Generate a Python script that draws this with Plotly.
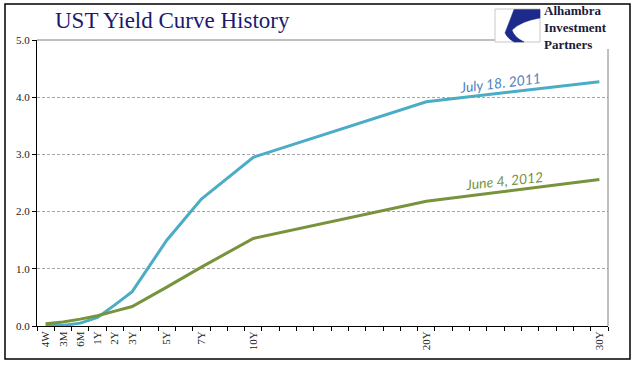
import plotly.graph_objects as go

# ---- data ----
tenors = ["4W", "3M", "6M", "1Y", "2Y", "3Y", "5Y", "7Y", "10Y", "20Y", "30Y"]
july_2011 = [0.02, 0.01, 0.05, 0.15, 0.37, 0.60, 1.50, 2.22, 2.95, 3.92, 4.27]
june_2012 = [0.04, 0.07, 0.12, 0.18, 0.26, 0.34, 0.68, 1.03, 1.53, 2.18, 2.56]
slots = ["4W", "3M", "6M"] + [f"{n}Y" for n in range(1, 31)]
y_ticks = [0, 1, 2, 3, 4, 5]
y_tick_labels = ["0.0", "1.0", "2.0", "3.0", "4.0", "5.0"]

xpos = [slots.index(t) for t in tenors]

W, H = 641, 381
L, R, T, B = 37, 608, 40, 326


def px(x):
    return (x - L) / (R - L)


def py(y):
    return (B - y) / (B - T)


fig = go.Figure()
fig.add_trace(go.Scatter(x=xpos, y=july_2011, mode="lines",
                         line=dict(color="#4BACC6", width=3), name="July 18. 2011"))
fig.add_trace(go.Scatter(x=xpos, y=june_2012, mode="lines",
                         line=dict(color="#77933C", width=3), name="June 4, 2012"))

serif = "Liberation Serif, Times New Roman, serif"

fig.update_layout(
    width=W, height=H,
    margin=dict(l=L, r=W - R, t=T, b=H - B),
    paper_bgcolor="white", plot_bgcolor="white",
    showlegend=False,
    xaxis=dict(
        range=[-0.5, len(slots) - 0.5],
        tickmode="array", tickvals=xpos, ticktext=tenors,
        tickangle=-90, ticks="",
        tickfont=dict(family=serif, size=11, color="#222"),
        showgrid=False, zeroline=False,
        showline=True, linecolor="black", linewidth=1,
        minor=dict(ticks="outside", tick0=-0.5, dtick=1, ticklen=4,
                   tickcolor="black", showgrid=False),
    ),
    yaxis=dict(
        range=[0, 5],
        tickmode="array", tickvals=y_ticks, ticktext=y_tick_labels,
        ticks="outside", ticklen=4, tickcolor="black",
        tickfont=dict(family=serif, size=11, color="#222"),
        showgrid=True, gridcolor="#A6A6A6", gridwidth=1, griddash="3px,2px",
        zeroline=False,
        showline=True, linecolor="black", linewidth=1,
    ),
)

shapes = []
# outer border
shapes.append(dict(type="rect", xref="paper", yref="paper",
                   x0=px(5), x1=px(630), y0=py(359), y1=py(4),
                   line=dict(color="black", width=1.5), fillcolor="rgba(0,0,0,0)"))
# top frame line (gray) up to the logo
shapes.append(dict(type="line", xref="paper", yref="paper",
                   x0=0, x1=px(495), y0=1, y1=1,
                   line=dict(color="#808080", width=1)))
# right frame line (gray)
shapes.append(dict(type="line", xref="paper", yref="paper",
                   x0=1, x1=1, y0=0, y1=py(49),
                   line=dict(color="#808080", width=1)))
# logo box
shapes.append(dict(type="rect", xref="paper", yref="paper",
                   x0=px(495), x1=px(540), y0=py(42), y1=py(9),
                   line=dict(color="#C8C8C8", width=1), fillcolor="white"))
# logo swoosh
pts = "M {:.4f},{:.4f} L {:.4f},{:.4f} L {:.4f},{:.4f} Q {:.4f},{:.4f} {:.4f},{:.4f} Q {:.4f},{:.4f} {:.4f},{:.4f} L {:.4f},{:.4f} Q {:.4f},{:.4f} {:.4f},{:.4f} Z".format(
    px(514), py(9.5), px(540), py(9.5), px(540), py(18),
    px(521), py(21), px(512), py(30),
    px(514), py(37), px(524), py(42),
    px(514), py(42),
    px(507), py(38), px(505), py(33))
shapes.append(dict(type="path", xref="paper", yref="paper", path=pts,
                   line=dict(color="#1C2A8C", width=0.5), fillcolor="#1C2A8C"))
fig.update_layout(shapes=shapes)

ann = []
ann.append(dict(text="UST Yield Curve History", xref="paper", yref="paper",
                x=px(172), y=py(21), showarrow=False, xanchor="center", yanchor="middle",
                font=dict(family=serif, size=23, color="#1A1A6E")))
ann.append(dict(text="<b>Alhambra<br>Investment<br>Partners</b>", xref="paper", yref="paper",
                x=px(542), y=py(27), showarrow=False, xanchor="left", yanchor="middle",
                align="left",
                font=dict(family=serif, size=13, color="#1A1A3A")))
ann.append(dict(text="July 18. 2011", xref="paper", yref="paper", x=px(500), y=py(82),
                showarrow=False, xanchor="center", yanchor="middle", textangle=-7,
                font=dict(family="Lato, Open Sans, sans-serif", size=14, color="#4F81BD",
                          style="italic")))
ann.append(dict(text="June 4, 2012", xref="paper", yref="paper", x=px(504), y=py(180),
                showarrow=False, xanchor="center", yanchor="middle", textangle=-6,
                font=dict(family="Lato, Open Sans, sans-serif", size=14, color="#77933C",
                          style="italic")))
fig.update_layout(annotations=ann)

fig.write_html("out.html", config={"displayModeBar": False},
               post_script="document.body.style.margin='0';")
